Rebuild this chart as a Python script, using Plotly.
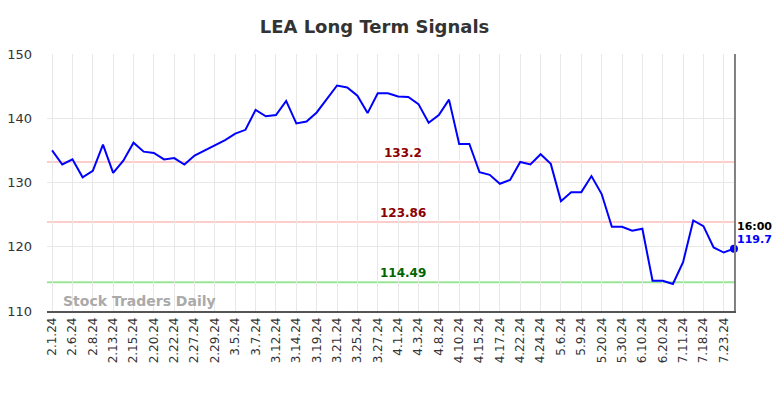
import plotly.graph_objects as go

tick_labels = ["2.1.24", "2.6.24", "2.8.24", "2.13.24", "2.15.24", "2.20.24", "2.22.24",
               "2.27.24", "2.29.24", "3.5.24", "3.7.24", "3.12.24", "3.14.24", "3.19.24",
               "3.21.24", "3.25.24", "3.27.24", "4.1.24", "4.3.24", "4.8.24", "4.10.24",
               "4.15.24", "4.17.24", "4.22.24", "4.24.24", "5.6.24", "5.9.24", "5.20.24",
               "5.30.24", "6.10.24", "6.20.24", "7.11.24", "7.18.24", "7.23.24"]

prices = [135.0, 132.8, 133.6, 130.8, 131.8, 135.9, 131.5, 133.4, 136.2, 134.8,
          134.6, 133.6, 133.8, 132.8, 134.2, 135.0, 135.7, 136.6, 137.6, 138.2,
          141.3, 140.3, 140.5, 142.7, 139.2, 139.5, 140.9, 143.0, 145.1, 144.8,
          143.5, 140.8, 143.9, 143.9, 143.4, 143.3, 142.2, 139.3, 140.5, 142.9,
          136.0, 136.0, 131.6, 131.2, 129.8, 130.4, 133.2, 132.8, 134.4, 132.9,
          127.1, 128.5, 128.5, 131.0, 128.2, 123.1, 123.1, 122.5, 122.8, 114.7,
          114.7, 114.2, 117.6, 124.1, 123.2, 119.9, 119.1, 119.7]

levels = [133.2, 123.86, 114.49]
level_labels = ["133.2", "123.86", "114.49"]
level_line_colors = ["#ffcccc", "#ffcccc", "#99e699"]
level_text_colors = ["#8b0000", "#8b0000", "#006400"]

last_time = "16:00"
last_value = 119.7

x_idx = list(range(len(prices)))
tick_pos = [i * 2 for i in range(len(tick_labels))]
last_i = x_idx[-1]

fig = go.Figure()
fig.add_trace(go.Scatter(x=x_idx, y=prices, mode="lines",
                         line=dict(color="#0000ff", width=2), hoverinfo="skip"))
fig.add_trace(go.Scatter(x=[last_i], y=[prices[-1]], mode="markers", cliponaxis=False,
                         marker=dict(color="#0000ff", size=8), hoverinfo="skip"))

for lv, lc, lbl, tc in zip(levels, level_line_colors, level_labels, level_text_colors):
    fig.add_shape(type="line", xref="paper", x0=0, x1=1, y0=lv, y1=lv,
                  line=dict(color=lc, width=2), layer="below")
    fig.add_annotation(x=34.5, y=lv, text="<b>%s</b>" % lbl, showarrow=False,
                       yanchor="bottom", yshift=1, borderpad=0,
                       font=dict(family="DejaVu Sans", size=12, color=tc))

fig.add_shape(type="line", x0=last_i + 0.1, x1=last_i + 0.1, yref="paper", y0=0, y1=1,
              line=dict(color="#808080", width=2))

fig.add_annotation(x=last_i, y=last_value, text="<b>%s</b>" % last_time, showarrow=False,
                   xanchor="left", yanchor="bottom", xshift=1, yshift=14,
                   font=dict(family="DejaVu Sans", size=11, color="#000000"))
fig.add_annotation(x=last_i, y=last_value, text="<b>%s</b>" % last_value, showarrow=False,
                   xanchor="left", yanchor="bottom", xshift=1, yshift=1,
                   font=dict(family="DejaVu Sans", size=11, color="#0000ff"))

fig.add_annotation(xref="paper", yref="paper", x=(62 - 47) / 689, y=0.0, text="<b>Stock Traders Daily</b>",
                   showarrow=False, xanchor="left", yanchor="bottom", borderpad=0, yshift=1,
                   font=dict(family="DejaVu Sans", size=14, color="#aaaaaa"))

fig.update_layout(
    width=784, height=398,
    margin=dict(l=47, r=48, t=54, b=87),
    paper_bgcolor="white", plot_bgcolor="white",
    showlegend=False,
    title=dict(text="<b>LEA Long Term Signals</b>", x=374.5 / 784, xref="container",
               xanchor="center", y=1 - 27 / 398, yanchor="middle",
               font=dict(family="DejaVu Sans", size=18, color="#333333")),
    font=dict(family="DejaVu Sans", color="#333333"),
)
fig.update_xaxes(range=[-0.5, last_i + 0.2], tickvals=tick_pos, ticktext=tick_labels,
                 tickangle=-90, tickfont=dict(size=12, color="#333333"),
                 showgrid=True, gridcolor="#e8e8e8", gridwidth=1, automargin=False,
                 showline=True, linecolor="#555555", linewidth=1.5, zeroline=False,
                 ticks="")
fig.update_yaxes(range=[110, 150], tickvals=[110, 120, 130, 140, 150],
                 tickfont=dict(size=13, color="#333333"), automargin=False,
                 showgrid=True, gridcolor="#e8e8e8", gridwidth=1,
                 zeroline=False, showline=False, ticks="", ticklabelstandoff=14)

fig.write_html("out.html", config={"displayModeBar": False},
               post_script="document.body.style.margin='0';")
